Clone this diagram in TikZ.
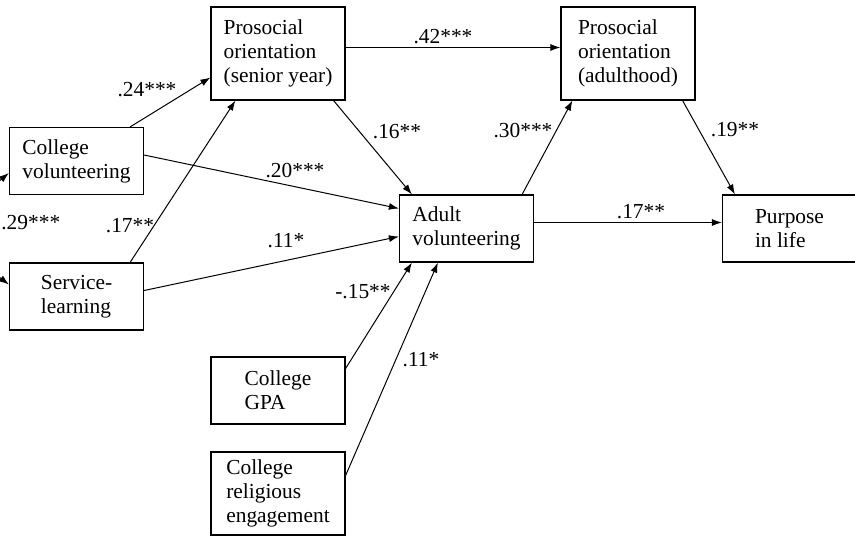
\documentclass[tikz,border=0pt]{standalone}
\usepackage{fontspec}
\setmainfont{Liberation Serif}
\usetikzlibrary{arrows.meta,calc}

\begin{document}
\begin{tikzpicture}[x=0.5pt,y=-0.5pt,
    box/.style={draw, line width=0.6pt, align=left, inner sep=0pt,
      minimum width=67pt, minimum height=33.5pt,
      font=\fontsize{10.7}{12}\selectfont},
    coef/.style={inner sep=0pt, font=\fontsize{10.7}{12}\selectfont},
    link/.style={line width=0.5pt, -{Latex[length=5pt,width=3.5pt]}}]
      \useasboundingbox (0,0) rectangle (855,547);

      \node[box, minimum height=46.5pt] (ps) at (278,53.5) {Prosocial\\orientation\\(senior year)};
      \node[box, minimum height=46.5pt] (pa) at (628,53.5) {Prosocial\\orientation\\(adulthood)};
      \node[box] (cv) at (76.5,161) {College\\volunteering};
      \node[box] (sl) at (76.5,296.5) {Service-\\learning};
      \node[box] (av) at (466.5,228.5) {Adult\\volunteering};
      \node[box] (pl) at (789.5,228.5) {Purpose\\in life};
      \node[box] (gpa) at (278,390.5) {College\\GPA};
      \node[box, minimum height=41.5pt] (rel) at (278,493.5) {College\\religious\\engagement};

      \draw[line width=0.5pt, {Latex[length=5pt,width=3.5pt]}-{Latex[length=5pt,width=3.5pt]}]
        ($(cv.west)+(0,12)$) .. controls (-30,205) and (-30,255) .. ($(sl.west)+(0,-12)$);
      \node[coef, anchor=west] (r1) at (1,223) {.29***};

      \draw[link] ($(cv.north east)+(-14,0)$) -- ($(ps.west)+(0,24)$);
      \node[coef] (b1) at (147,90) {.24***};
      \draw[link] ($(sl.north east)+(-14,0)$) -- ($(ps.south west)+(25,0)$);
      \node[coef] (b2) at (130,226) {.17**};

      \draw[link] ($(cv.east)+(0,-6)$) -- ($(av.west)+(0,-20)$);
      \node[coef] (b3) at (295,171) {.20***};
      \draw[link] ($(sl.east)+(0,-6)$) -- ($(av.west)+(0,8)$);
      \node[coef] (b4) at (286,241) {.11*};

      \draw[link] ($(ps.south east)+(-12,0)$) -- ($(av.north west)+(13,0)$);
      \node[coef] (b5) at (397,132) {.16**};
      \draw[link] ($(ps.east)+(0,-6)$) -- ($(pa.west)+(0,-6)$);
      \node[coef] (b6) at (443,37) {.42***};

      \draw[link] ($(av.north east)+(-12,0)$) -- ($(pa.south west)+(12,0)$);
      \node[coef] (b7) at (523,131) {.30***};
      \draw[link] ($(pa.south east)+(-13,0)$) -- ($(pl.north west)+(13,0)$);
      \node[coef] (b8) at (735,130) {.19**};
      \draw[link] ($(av.east)+(0,-6)$) -- ($(pl.west)+(0,-6)$);
      \node[coef] (b9) at (641,212) {.17**};

      \draw[link] ($(gpa.east)+(0,-22)$) -- ($(av.south west)+(13,0)$);
      \node[coef] (b10) at (363,292) {-.15**};
      \draw[link] ($(rel.east)+(0,-18)$) -- ($(av.south west)+(39,0)$);
      \node[coef] (b11) at (421,360) {.11*};

    \end{tikzpicture}
\end{document}
